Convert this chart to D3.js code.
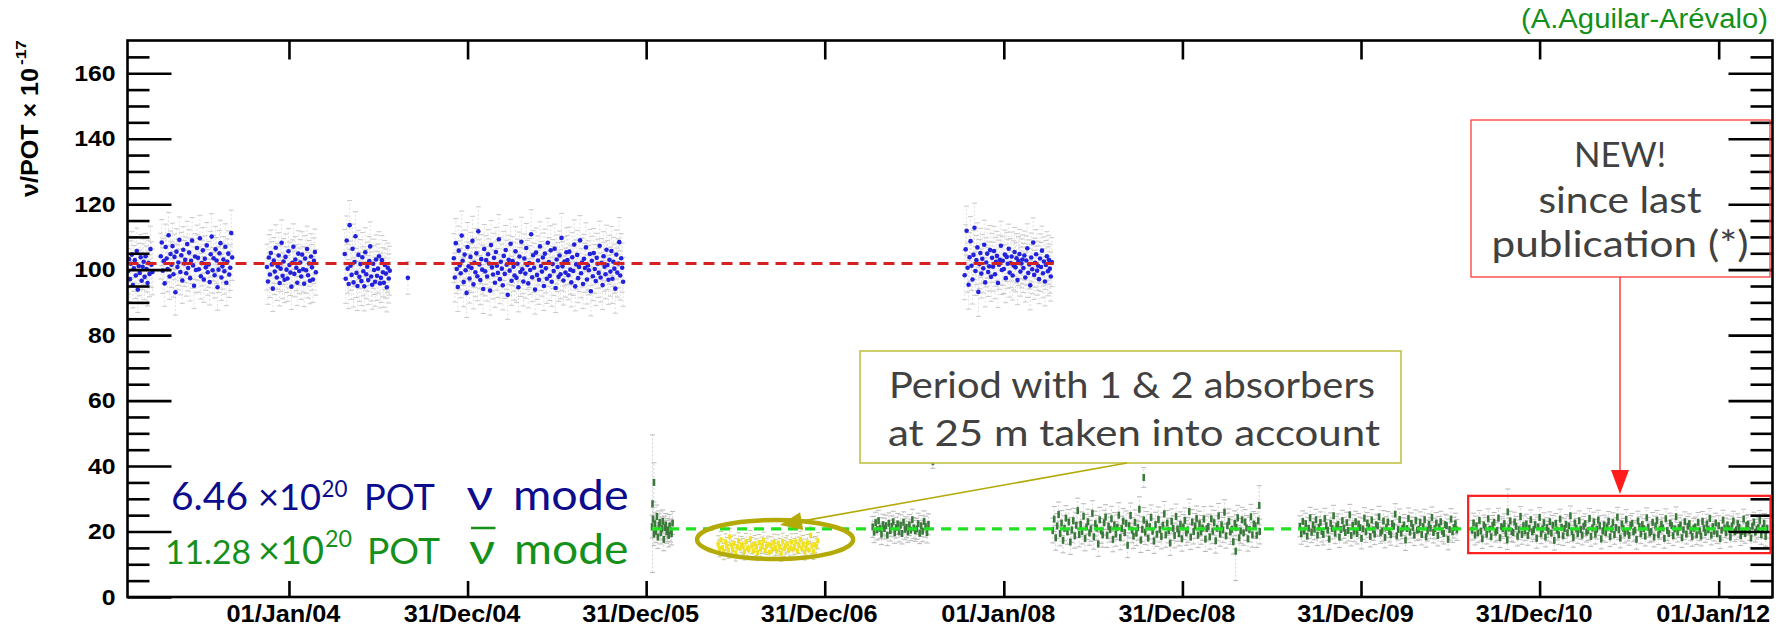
<!DOCTYPE html>
<html>
<head>
<meta charset="utf-8">
<title>ν/POT stability</title>
<script src="https://cdn.jsdelivr.net/npm/d3@7/dist/d3.min.js"></script>
<style>
  html, body { margin: 0; padding: 0; background: #ffffff; }
  svg { display: block; }
</style>
</head>
<body>
<svg id="chart" width="1781" height="628"></svg>
<script>
// ---------------------------------------------------------------- data ----
const xTickDates  = ["2004-01-01", "2004-12-31", "2005-12-31", "2006-12-31", "2008-01-01",
                     "2008-12-31", "2009-12-31", "2010-12-31", "2012-01-01"];
const xTickLabels = ["01/Jan/04", "31/Dec/04", "31/Dec/05", "31/Dec/06", "01/Jan/08",
                     "31/Dec/08", "31/Dec/09", "31/Dec/10", "01/Jan/12"];
const yMajorTicks = [0, 20, 40, 60, 80, 100, 120, 140, 160];
const yMinorTicks = [5, 10, 15, 25, 30, 35, 45, 50, 55, 65, 70, 75, 85, 90, 95,
                     105, 110, 115, 125, 130, 135, 145, 150, 155, 165];

// neutrino mode: first day of each run, then one value every nuStepDays days
const nuRunStarts = ["2003-02-06", "2003-04-14", "2003-11-17", "2004-04-24", "2004-12-03", "2007-10-13"];
const nuStepDays = 2;
const nuRunErrors = [7, 7, 7, 7.5, 7.5, 7.5];
const nuRunA1 = [99.5, 103.2, 97.1, 101.8, 104.6, 95.3, 100.4, 102.9, 98.2, 105.7, 93.9, 101.1, 99.0, 103.8, 96.6, 100.9,
                 102.4, 97.8, 104.1, 100.2, 95.9, 102.0, 98.7, 106.3, 101.5, 99.3];
const nuRunA2 = [104.1, 108.3, 99.7, 102.6, 95.8, 106.9, 103.4, 100.2, 110.5, 97.9, 104.8, 101.5, 107.2, 98.6, 103.9, 93.1,
                 105.5, 100.8, 102.2, 109.1, 99.3, 104.4, 96.7, 106.1, 101.9, 103.0, 98.9, 107.8, 100.5, 105.2, 97.4, 102.7,
                 108.9, 101.3, 95.1, 104.0, 99.9, 106.6, 103.6, 100.1, 109.6, 98.0, 102.0, 105.9, 97.0, 103.3, 100.7, 107.4,
                 99.2, 101.6, 96.2, 104.7, 110.1, 99.8, 103.5, 98.3, 106.2, 102.8, 94.6, 100.0, 105.0, 108.1, 97.6, 101.0,
                 103.1, 99.5, 107.0, 96.0, 102.4, 104.9, 98.5, 100.6, 111.2, 103.7];
const nuRunB  = [100.8, 96.4, 103.7, 98.5, 105.1, 101.6, 94.2, 102.8, 99.4, 106.7, 97.6, 101.0, 104.3, 95.9, 100.3, 108.2,
                 98.1, 102.5, 96.9, 103.9, 100.0, 97.3, 105.6, 101.4, 99.1, 94.8, 102.1, 107.0, 98.7, 103.1, 100.6, 96.0,
                 104.9, 99.6, 102.2, 97.9, 104.6, 100.1, 95.7, 103.4, 99.8, 106.3, 98.3, 101.9, 96.6, 104.0, 100.7, 97.0,
                 102.7, 105.4, 99.2];
const nuRunC  = [104.8, 97.2, 108.9, 100.3, 95.6, 113.6, 101.2, 98.4, 106.4, 96.1, 102.3, 110.2, 99.0, 95.0, 104.5, 97.8,
                 101.7, 96.5, 103.8, 99.5, 94.9, 105.3, 98.6, 100.9, 96.8, 102.6, 107.1, 97.9, 95.4, 101.8, 99.9, 96.3,
                 103.1, 98.1, 100.3, 104.1, 95.8, 97.5, 102.9, 99.2, 96.0, 101.4, 98.8, 94.6, 100.6, 97.3, 99.7];
const nuRunD  = [103.5, 97.6, 108.1, 100.2, 94.7, 105.8, 101.3, 98.9, 110.4, 102.7, 96.2, 104.6, 99.8, 92.9, 106.9, 101.0,
                 97.3, 103.9, 100.5, 108.8, 95.5, 102.1, 99.2, 105.0, 98.0, 111.7, 101.6, 96.8, 103.2, 100.0, 94.1, 106.3,
                 99.5, 102.9, 97.9, 104.7, 101.9, 93.6, 107.5, 100.7, 98.5, 103.6, 96.0, 105.4, 101.2, 99.0, 109.3, 97.1,
                 102.4, 100.3, 95.2, 104.2, 98.7, 106.0, 101.5, 92.3, 103.0, 99.7, 107.9, 96.6, 102.6, 100.9, 98.2, 105.6,
                 97.5, 101.8, 94.6, 104.0, 99.3, 108.5, 100.1, 96.4, 103.4, 98.8, 106.6, 101.4, 95.8, 102.0, 99.9, 110.8,
                 97.7, 104.4, 100.6, 93.9, 105.2, 98.4, 102.8, 96.9, 107.1, 101.1, 99.4, 103.7, 95.0, 104.9, 100.4, 97.2,
                 108.2, 102.3, 98.1, 105.9, 96.3, 101.7, 99.6, 106.4, 94.4, 103.1, 100.8, 97.8, 104.3, 98.6, 109.7, 101.0,
                 96.7, 102.5, 99.1, 105.3, 102.9, 98.3, 105.5, 100.0, 96.1, 103.8, 99.6, 107.7, 94.9, 101.6, 104.5, 97.4,
                 100.8, 109.0, 98.9, 102.2, 95.6, 103.3, 100.5, 106.8, 97.0, 101.3, 99.8, 104.8, 93.4, 102.7, 98.0, 105.1,
                 100.2, 96.5, 103.6, 101.8, 99.0, 107.3, 97.6, 102.0, 95.3, 104.1, 100.9, 98.6, 106.1, 101.4, 96.9, 103.0,
                 99.4, 105.7, 97.2, 102.4, 100.3, 94.2, 104.6, 99.1, 101.9, 108.4, 98.2, 103.5, 100.6, 96.3];
const nuRunE  = [98.3, 106.2, 111.9, 100.6, 95.4, 103.8, 108.7, 101.2, 97.0, 104.5, 112.8, 99.6, 102.9, 106.8, 93.2, 101.7,
                 105.1, 98.8, 103.3, 100.4, 107.6, 96.1, 102.2, 104.9, 99.3, 101.0, 106.0, 97.8, 103.6, 100.9, 105.7, 98.6,
                 102.4, 104.2, 95.9, 101.5, 103.0, 107.3, 99.9, 102.7, 100.2, 104.6, 97.4, 103.9, 101.8, 106.4, 99.1, 102.0,
                 104.0, 98.2, 101.3, 105.4, 100.7, 103.5, 96.8, 102.6, 104.8, 99.4, 101.9, 103.1, 100.5, 104.3, 97.6, 102.8,
                 106.5, 99.0, 101.6, 95.2, 103.7, 100.1, 108.3, 98.4, 102.1, 104.7, 99.7, 101.2, 97.1, 103.4, 100.8, 105.8,
                 98.9, 102.5, 96.4, 101.4, 104.1, 99.5, 103.0, 100.3, 97.9, 102.3];
const nuSingleDates  = ["2004-08-31"];
const nuSingleValues = [97.5];
const nuSingleErrors = [5];

// antineutrino mode
const nubarRunStarts = ["2006-01-12", "2007-04-08", "2008-04-10", "2009-08-28", "2010-08-15"];
const nubarRunSteps  = [2, 3, 3, 3, 3];
const nubarRunErrors = [3.5, 3.2, 3.8, 3.2, 3.0];
const nubarRunG1 = [21.5, 23.8, 19.2, 22.4, 20.1, 24.6, 18.3, 21.9, 22.8, 19.7, 20.9, 23.1, 17.6, 21.2, 22.0, 19.9,
                    20.5, 18.8, 21.7, 20.3, 19.4, 22.6];
const nubarRunG2 = [21.4, 19.8, 22.7, 20.6, 23.3, 21.0, 19.2, 22.1, 20.9, 21.8, 18.9, 22.5, 20.3, 21.6, 23.0, 19.6,
                    21.2, 22.3, 20.0, 21.9, 19.4, 22.8, 20.7, 21.3, 19.9, 22.0, 20.4, 23.6, 21.1, 20.2, 20.8, 22.4,
                    19.5, 21.7, 20.1, 23.1, 21.5, 19.7, 22.2];
const nubarRunG3 = [20.3, 23.8, 18.1, 21.7, 25.2, 19.4, 22.6, 17.3, 21.0, 24.1, 19.9, 22.9, 16.8, 20.5, 23.3, 18.7,
                    21.9, 26.4, 19.1, 22.2, 20.0, 24.7, 17.9, 21.4, 23.0, 19.6, 20.8, 25.6, 18.4, 22.4, 21.1, 16.2,
                    23.6, 20.2, 19.0, 22.7, 24.4, 18.9, 21.6, 20.6, 23.9, 17.6, 22.0, 19.3, 21.3, 25.0, 18.2, 20.9,
                    23.2, 19.7, 22.5, 15.8, 21.8, 24.9, 20.4, 18.6, 22.8, 19.5, 21.2, 26.8, 17.4, 20.7, 23.5, 19.8,
                    22.3, 18.0, 21.5, 24.3, 20.1, 17.1, 22.1, 19.2, 23.7, 20.6, 18.5, 21.9, 25.4, 19.0, 22.6, 20.3,
                    16.5, 23.1, 21.0, 18.8, 24.6, 20.8, 19.4, 22.2, 17.8, 21.4, 23.4, 19.6, 20.5, 26.1, 18.3, 22.9,
                    20.0, 21.7, 24.0, 18.9, 22.4, 19.9, 21.1, 23.8, 17.7, 20.9, 21.5, 18.4, 23.9, 20.1, 22.7, 17.2,
                    21.0, 24.8, 19.3, 22.0, 20.5, 25.9, 18.7, 21.8, 23.1, 19.9, 20.7, 16.9, 22.5, 21.3, 24.2, 18.1,
                    20.2, 23.6, 19.6, 22.9, 21.1, 17.8, 20.6, 24.5, 19.0, 22.3, 21.7, 18.9, 23.3, 20.0];
const nubarRunG4 = [21.6, 19.3, 23.1, 20.2, 22.4, 18.6, 21.0, 24.2, 19.8, 22.0, 20.7, 23.6, 18.9, 21.3, 22.8, 20.0,
                    19.1, 23.9, 21.8, 20.4, 17.7, 22.5, 20.9, 24.8, 19.5, 21.5, 22.2, 18.3, 20.6, 23.3, 21.1, 19.7,
                    22.7, 20.3, 25.1, 18.8, 21.9, 20.1, 23.0, 19.4, 22.3, 21.2, 17.9, 20.8, 24.1, 19.9, 22.6, 21.4,
                    18.5, 23.5, 20.5, 19.2, 22.1, 21.7, 24.5, 19.6, 20.2, 23.2, 18.2, 21.3, 22.9, 20.0, 19.0, 22.4,
                    21.6, 25.3, 18.7, 20.6, 23.7, 19.5, 21.0, 22.0, 17.4, 20.9, 24.0, 19.8, 22.5, 21.2, 18.9, 23.4,
                    20.4, 20.7, 22.8, 19.1, 21.5, 23.6, 18.4, 20.3, 22.2, 21.0, 24.3, 19.7, 20.9, 22.6, 18.8, 21.4,
                    23.0, 20.1, 19.4, 22.1, 21.8, 17.6, 20.6, 23.8, 19.9, 21.2, 22.4, 20.5];
const nubarRunG5 = [20.4, 22.6, 18.9, 21.7, 19.6, 23.4, 20.1, 17.8, 22.0, 21.3, 19.2, 23.9, 20.7, 18.4, 21.9, 22.8,
                    19.8, 20.3, 24.1, 18.1, 21.5, 20.9, 22.4, 19.4, 17.5, 21.1, 23.2, 20.0, 19.7, 22.9, 21.6, 18.6,
                    20.5, 24.6, 19.1, 21.8, 20.2, 22.3, 18.8, 21.0, 23.6, 19.9, 20.6, 22.1, 17.9, 21.4, 24.3, 19.3,
                    20.8, 22.7, 18.3, 21.2, 20.1, 23.0, 19.5, 21.9, 17.3, 22.5, 20.4, 19.0, 23.8, 21.3, 18.7, 20.9,
                    22.2, 19.6, 21.7, 24.8, 20.0, 18.2, 22.6, 21.0, 19.4, 23.3, 20.6, 18.9, 21.6, 22.4, 19.8, 20.3,
                    24.0, 18.5, 21.1, 22.9, 19.2, 20.7, 23.5, 21.8, 17.7, 20.2, 22.0, 19.7, 21.4, 23.1, 18.4, 20.8,
                    22.7, 19.1, 21.2, 24.4, 20.5, 18.0, 22.3, 21.0, 19.5, 23.7, 20.1, 18.8, 21.9, 22.5, 19.9, 20.4,
                    17.6, 23.2, 21.5, 19.3, 22.1, 20.9, 18.6, 24.2, 21.3, 19.6, 20.0, 22.8, 18.3, 21.7, 23.4, 19.0,
                    20.6, 22.2, 21.1, 17.9, 23.9, 20.3, 19.4, 22.6, 21.8, 18.7, 20.8, 24.5, 19.8, 21.2, 22.0, 18.1,
                    20.5, 23.0, 19.2, 21.6, 22.4, 20.2, 18.5, 21.0, 21.4, 19.0, 22.8, 20.2, 18.6, 23.1, 21.0, 19.7,
                    22.3, 20.6, 24.0, 18.9, 21.5, 20.1, 22.6, 19.3, 21.8, 17.8, 20.4, 23.5, 21.1, 19.6, 22.0, 20.8,
                    18.3, 21.7, 23.2, 19.9, 20.5, 22.4, 21.3, 18.7, 20.0, 23.8, 19.4, 21.9, 22.2, 20.3, 18.0, 21.6,
                    22.9, 19.8, 20.7, 21.2, 23.4, 19.1, 20.9, 22.5, 18.5, 21.0];
const nubarSingleDates  = ["2006-01-13", "2006-01-16", "2007-08-09", "2008-10-13", "2009-04-19", "2009-06-06", "2010-10-27"];
const nubarSingleValues = [28.5, 35.0, 41.3, 36.5, 14.0, 28.0, 26.0];
const nubarSingleErrors = [21, 6, 2, 3, 9, 6, 7];

// period with 1 & 2 absorbers at 25 m
const absorberStart  = "2006-05-27";
const absorberStep   = 3;
const absorberError  = 2.5;
const absorberValues = [16.2, 14.8, 17.5, 15.1, 13.9, 16.8, 15.6, 14.3, 18.4, 15.9, 14.6, 16.4, 13.5, 15.3, 17.1, 14.9,
                        16.0, 15.4, 13.8, 16.9, 15.0, 14.4, 17.8, 15.7, 14.1, 16.3, 15.2, 13.6, 16.6, 14.7, 15.8, 17.3,
                        14.2, 15.5, 16.1, 13.7, 15.9, 14.5, 16.7, 15.1, 14.0, 16.5, 15.3, 13.4, 17.0, 14.8, 15.6, 16.2,
                        14.3, 15.0, 16.8, 14.6, 15.4, 16.9, 14.1, 15.8, 17.6, 14.9, 16.3, 13.8, 15.2, 16.6, 14.4, 18.9,
                        15.7, 14.0, 16.0, 15.5, 17.2];

// fitted averages
const nuMean = 101.9;
const nuMeanSpan = ["2003-02-05", "2008-04-12"];
const nubarMean = 20.8;
const nubarMeanSpan = ["2006-01-12", "2012-04-20"];

// highlighted regions (date span, value range)
const newDataSpan = ["2010-08-07", "2012-04-20"];
const newDataRange = [13.4, 30.9];
const absorberRegionSpan = ["2006-04-14", "2007-02-27"];
const absorberRegionRange = [11.6, 23.5];

// ---------------------------------------------------------------- setup ---
const parse = d3.utcParse("%Y-%m-%d");
const frame = { left: 127.5, right: 1772.5, top: 40.5, bottom: 597 };
const svg = d3.select("#chart");

const x = d3.scaleUtc()
  .domain([parse("2003-02-05"), parse("2012-04-20")])
  .range([frame.left, frame.right]);
const y = d3.scaleLinear().domain([0, 170]).range([frame.bottom, frame.top]);

const sans = "'Liberation Sans', Arial, Helvetica, sans-serif";
const round = "Lato, 'Open Sans', 'Noto Sans', sans-serif";

function expandRuns(starts, runs, steps, errors) {
  return runs.flatMap((vals, i) => vals.map((v, j) => ({
    date: d3.utcDay.offset(parse(starts[i]), j * steps[i]),
    value: v,
    err: errors[i]
  })));
}
function singles(dates, values, errors) {
  return dates.map((d, i) => ({ date: parse(d), value: values[i], err: errors[i] }));
}

// set a text to an exact width; shrink the font first if it would have to squeeze
function fitted(sel, len) {
  const w = sel.node().getComputedTextLength();
  if (w > len) {
    const fs = parseFloat(sel.attr("font-size"));
    sel.attr("font-size", (fs * len / w).toFixed(2));
  }
  return sel.attr("textLength", len).attr("lengthAdjust", "spacingAndGlyphs");
}

const nuPoints = expandRuns(
  nuRunStarts,
  [nuRunA1, nuRunA2, nuRunB, nuRunC, nuRunD, nuRunE],
  nuRunStarts.map(() => nuStepDays),
  nuRunErrors
).concat(singles(nuSingleDates, nuSingleValues, nuSingleErrors));

const nubarPoints = expandRuns(
  nubarRunStarts,
  [nubarRunG1, nubarRunG2, nubarRunG3, nubarRunG4, nubarRunG5],
  nubarRunSteps,
  nubarRunErrors
).concat(singles(nubarSingleDates, nubarSingleValues, nubarSingleErrors));

const absorberPoints = expandRuns([absorberStart], [absorberValues], [absorberStep], [absorberError]);

svg.append("defs").append("clipPath").attr("id", "plot-clip")
  .append("rect")
  .attr("x", frame.left).attr("y", frame.top)
  .attr("width", frame.right - frame.left).attr("height", frame.bottom - frame.top);

const plot = svg.append("g").attr("clip-path", "url(#plot-clip)");

// ---------------------------------------------------------- error bars ----
function drawErrors(points, stem, cap, capHalf) {
  const g = plot.append("g");
  g.selectAll("path.stem").data(points).enter().append("path")
    .attr("class", "stem")
    .attr("d", d => `M${x(d.date)},${y(d.value - d.err)}V${y(d.value + d.err)}`)
    .attr("stroke", stem).attr("stroke-width", 1)
    .attr("stroke-dasharray", "2,2").attr("fill", "none");
  g.selectAll("path.cap").data(points).enter().append("path")
    .attr("class", "cap")
    .attr("d", d => {
      const px = x(d.date), lo = y(d.value - d.err), hi = y(d.value + d.err);
      return `M${px - capHalf},${lo}H${px + capHalf}M${px - capHalf},${hi}H${px + capHalf}`;
    })
    .attr("stroke", cap).attr("stroke-width", 1).attr("fill", "none");
}

drawErrors(nuPoints, "#e0e0e0", "#cacaca", 2.5);
drawErrors(nubarPoints, "#d2d2d2", "#b8b8b8", 2.5);
drawErrors(absorberPoints, "#d8d8c0", "#c4c4a0", 2);

// ---------------------------------------------------------------- marks ---
plot.append("g").selectAll("circle").data(nuPoints).enter().append("circle")
  .attr("cx", d => x(d.date)).attr("cy", d => y(d.value))
  .attr("r", 2.3).attr("fill", "#2222dc");

plot.append("g").selectAll("rect").data(nubarPoints).enter().append("rect")
  .attr("x", d => x(d.date) - 1.3).attr("y", d => y(d.value) - 3.5)
  .attr("width", 2.6).attr("height", 7).attr("fill", "#3b783b");

plot.append("g").selectAll("rect").data(absorberPoints).enter().append("rect")
  .attr("x", d => x(d.date) - 1.6).attr("y", d => y(d.value) - 2.5)
  .attr("width", 3.2).attr("height", 5).attr("fill", "#f1e21c");

// ---------------------------------------------------------- mean lines ----
plot.append("line")
  .attr("x1", x(parse(nuMeanSpan[0]))).attr("x2", x(parse(nuMeanSpan[1])))
  .attr("y1", y(nuMean)).attr("y2", y(nuMean))
  .attr("stroke", "#d42222").attr("stroke-width", 3).attr("stroke-dasharray", "11,7");

plot.append("line")
  .attr("x1", x(parse(nubarMeanSpan[0]))).attr("x2", x(parse(nubarMeanSpan[1])))
  .attr("y1", y(nubarMean)).attr("y2", y(nubarMean))
  .attr("stroke", "#22e022").attr("stroke-width", 3.4).attr("stroke-dasharray", "10,7");

// ------------------------------------------------------------- axes -------
const axisStyle = g => {
  g.select(".domain").remove();
  g.selectAll(".tick line").attr("stroke", "#000").attr("stroke-width", 2.6);
};

svg.append("g").attr("transform", `translate(0,${frame.bottom})`)
  .call(d3.axisBottom(x).tickValues(xTickDates.map(parse))
    .tickFormat((d, i) => xTickLabels[i]).tickSizeInner(-16).tickSizeOuter(0).tickPadding(9))
  .call(axisStyle)
  .call(g => g.selectAll("text")
    .attr("font-family", sans).attr("font-weight", "bold").attr("font-size", 23)
    .attr("fill", "#000").attr("dx", -6));

svg.append("g").attr("transform", `translate(0,${frame.top})`)
  .call(d3.axisTop(x).tickValues(xTickDates.map(parse)).tickFormat("").tickSizeInner(-19).tickSizeOuter(0))
  .call(axisStyle);

svg.append("g").attr("transform", `translate(${frame.left},0)`)
  .call(d3.axisLeft(y).tickValues(yMajorTicks).tickSizeInner(-44).tickSizeOuter(0).tickPadding(12))
  .call(axisStyle)
  .call(g => g.selectAll("text")
    .attr("font-family", sans).attr("font-weight", "bold").attr("font-size", 22.5).attr("fill", "#000"));

svg.append("g").attr("transform", `translate(${frame.left},0)`)
  .call(d3.axisLeft(y).tickValues(yMinorTicks).tickFormat("").tickSizeInner(-22).tickSizeOuter(0))
  .call(axisStyle);

svg.append("g").attr("transform", `translate(${frame.right},0)`)
  .call(d3.axisRight(y).tickValues(yMajorTicks).tickFormat("").tickSizeInner(-44).tickSizeOuter(0))
  .call(axisStyle);

svg.append("g").attr("transform", `translate(${frame.right},0)`)
  .call(d3.axisRight(y).tickValues(yMinorTicks).tickFormat("").tickSizeInner(-22).tickSizeOuter(0))
  .call(axisStyle);

// widen the bold axis lettering slightly
svg.selectAll(".tick text").each(function () {
  const w = this.getComputedTextLength();
  if (w > 0) d3.select(this).attr("textLength", w * 1.1).attr("lengthAdjust", "spacingAndGlyphs");
});

svg.append("rect")
  .attr("x", frame.left).attr("y", frame.top)
  .attr("width", frame.right - frame.left).attr("height", frame.bottom - frame.top)
  .attr("fill", "none").attr("stroke", "#000").attr("stroke-width", 2.6);

// y-axis title
fitted(svg.append("text")
  .attr("transform", "translate(38,197) rotate(-90)")
  .attr("font-family", sans).attr("font-weight", "bold").attr("font-size", 23)
  .attr("fill", "#000").text("ν/POT × 10"), 129);
fitted(svg.append("text")
  .attr("transform", "translate(26,65) rotate(-90)")
  .attr("font-family", sans).attr("font-weight", "bold").attr("font-size", 15)
  .attr("fill", "#000").text("-17"), 25);

// author credit
fitted(svg.append("text")
  .attr("x", 1521).attr("y", 28)
  .attr("font-family", sans).attr("font-size", 27).attr("fill", "#12901a")
  .text("(A.Aguilar-Arévalo)"), 247);

// ------------------------------------------------------------ exposure ----
const navy = "#0c0c8c", green = "#15901a";
const exposureText = [
  { t: "6.46",  x: 171,   y: 510,   len: 77,   size: 42, c: navy },
  { t: "×10",   x: 258,   y: 510,   len: 63,   size: 42, c: navy },
  { t: "20",    x: 321.5, y: 496.5, len: 26,   size: 24, c: navy },
  { t: "POT",   x: 364,   y: 510,   len: 71,   size: 42, c: navy },
  { t: "ν",     x: 466.5, y: 510,   len: 26.5, size: 42, c: navy },
  { t: "mode",  x: 513,   y: 510,   len: 115.5, size: 42, c: navy },
  { t: "11.28", x: 165,   y: 563.5, len: 86,   size: 42, c: green },
  { t: "×10",   x: 258,   y: 563.5, len: 66,   size: 42, c: green },
  { t: "20",    x: 325,   y: 547,   len: 27,   size: 24, c: green },
  { t: "POT",   x: 367,   y: 563.5, len: 73,   size: 42, c: green },
  { t: "ν",     x: 469,   y: 563.5, len: 26,   size: 42, c: green },
  { t: "mode",  x: 514,   y: 563.5, len: 114.5, size: 42, c: green }
];
exposureText.forEach(s => fitted(svg.append("text")
  .attr("x", s.x).attr("y", s.y)
  .attr("font-family", round).attr("font-size", s.size).attr("fill", s.c)
  .text(s.t), s.len));
svg.append("line").attr("x1", 471).attr("x2", 495.5).attr("y1", 528).attr("y2", 528)
  .attr("stroke", green).attr("stroke-width", 2.5);

// --------------------------------------------------------- annotations ----
const olive = "#b3aa08";
const noteGray = "#414141";

// absorber period: ellipse round the points and a callout box
const ex0 = x(parse(absorberRegionSpan[0])), ex1 = x(parse(absorberRegionSpan[1]));
const ey0 = y(absorberRegionRange[1]), ey1 = y(absorberRegionRange[0]);
svg.append("ellipse")
  .attr("cx", (ex0 + ex1) / 2).attr("cy", (ey0 + ey1) / 2)
  .attr("rx", (ex1 - ex0) / 2).attr("ry", (ey1 - ey0) / 2)
  .attr("fill", "none").attr("stroke", olive).attr("stroke-width", 4.5);

svg.append("rect").attr("x", 860).attr("y", 351).attr("width", 541).attr("height", 112)
  .attr("fill", "#fff").attr("stroke", "#bdbd3a").attr("stroke-width", 1.5);
fitted(svg.append("text").attr("x", 889).attr("y", 398)
  .attr("font-family", round).attr("font-size", 37).attr("fill", noteGray)
  .text("Period with 1 & 2 absorbers"), 486);
fitted(svg.append("text").attr("x", 888).attr("y", 446)
  .attr("font-family", round).attr("font-size", 37).attr("fill", noteGray)
  .text("at 25 m taken into account"), 492);

// pointer from the callout to the ellipse
{
  const from = [1127, 463], tip = [780, 525];
  const dx = tip[0] - from[0], dy = tip[1] - from[1], L = Math.hypot(dx, dy);
  const ux = dx / L, uy = dy / L, nx = -uy, ny = ux;
  const head = 22, half = 9;
  const bx = tip[0] - ux * head, by = tip[1] - uy * head;
  svg.append("line").attr("x1", from[0]).attr("y1", from[1]).attr("x2", bx).attr("y2", by)
    .attr("stroke", olive).attr("stroke-width", 1.6);
  svg.append("path")
    .attr("d", `M${tip[0]},${tip[1]}L${bx + nx * half},${by + ny * half}L${bx - nx * half},${by - ny * half}Z`)
    .attr("fill", olive);
}

// new data since last publication
const nx0 = x(parse(newDataSpan[0])), nx1 = x(parse(newDataSpan[1]));
svg.append("rect")
  .attr("x", nx0).attr("y", y(newDataRange[1]))
  .attr("width", nx1 - nx0 - 2).attr("height", y(newDataRange[0]) - y(newDataRange[1]))
  .attr("fill", "none").attr("stroke", "#ff1c1c").attr("stroke-width", 2.2);

svg.append("rect").attr("x", 1471).attr("y", 120).attr("width", 299).attr("height", 157)
  .attr("fill", "none").attr("stroke", "#ff2a2a").attr("stroke-width", 1.2);
[["NEW!", 167, 92], ["since last", 213, 163], ["publication (*)", 257, 257]].forEach(([t, ty, len]) =>
  fitted(svg.append("text").attr("x", 1620 - len / 2).attr("y", ty)
    .attr("font-family", round).attr("font-size", 37).attr("fill", noteGray).text(t), len));

svg.append("line").attr("x1", 1620).attr("x2", 1620).attr("y1", 277).attr("y2", 472)
  .attr("stroke", "#ff2020").attr("stroke-width", 1.3);
svg.append("path").attr("d", "M1611,470L1629,470L1620,494Z").attr("fill", "#ff1c1c");
</script>
</body>
</html>
